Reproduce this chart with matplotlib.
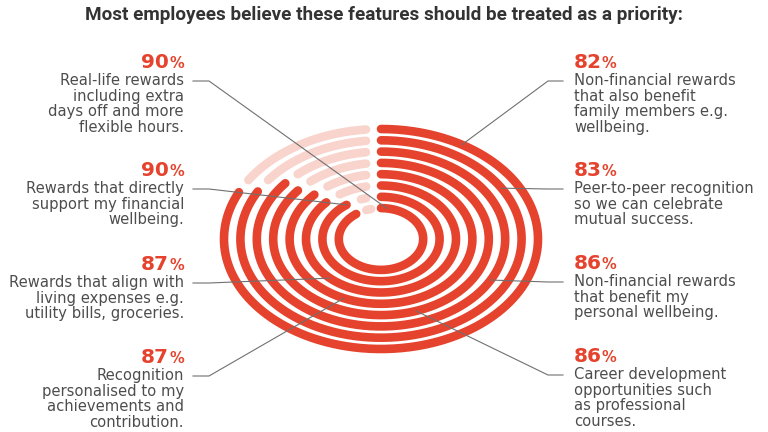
import numpy as np
import matplotlib.pyplot as plt

plt.rcParams['font.family'] = ['DejaVu Sans']

title = 'Most employees believe these features should be treated as a priority:'

# rings, outermost first
values = [82, 83, 86, 86, 87, 87, 90, 90]
labels = [
    'Non-financial rewards\nthat also benefit\nfamily members e.g.\nwellbeing.',
    'Peer-to-peer recognition\nso we can celebrate\nmutual success.',
    'Non-financial rewards\nthat benefit my\npersonal wellbeing.',
    'Career development\nopportunities such\nas professional\ncourses.',
    'Recognition\npersonalised to my\nachievements and\ncontribution.',
    'Rewards that align with\nliving expenses e.g.\nutility bills, groceries.',
    'Rewards that directly\nsupport my financial\nwellbeing.',
    'Real-life rewards\nincluding extra\ndays off and more\nflexible hours.',
]
sides = ['right', 'right', 'right', 'right', 'left', 'left', 'left', 'left']

# layout (pixels)
label_y = [68, 176, 269, 362, 363, 270, 176, 68]
pointer_deg = [31, 59, 118, 161, 204, 223, None, 8]

RED = '#e5432d'
PINK = '#f8d4cc'
GREY = '#4d4d4d'

cx, cy = 381, 239
rx = 157 - 16.4 * np.arange(len(values))
ry = 110 - 11.3 * np.arange(len(values))
lw = 6.2
gap = 15
line_h = 15.7


def ring_xy(i, t):
    return cx + rx[i] * np.sin(t), cy - ry[i] * np.cos(t)


def gap_angle(i, t):
    return gap / np.hypot(rx[i] * np.cos(t), ry[i] * np.sin(t))


fig = plt.figure(figsize=(7.68, 4.32), dpi=100)
ax = fig.add_axes([0, 0, 1, 1])
ax.set_xlim(0, 768)
ax.set_ylim(432, 0)
ax.axis('off')

for i, v in enumerate(values):
    end = 2 * np.pi * v / 100
    t = np.linspace(0, end, 400)
    ax.plot(*ring_xy(i, t), color=RED, lw=lw, solid_capstyle='round', zorder=2)
    t = np.linspace(end + gap_angle(i, end), 2 * np.pi - gap_angle(i, 0), 200)
    ax.plot(*ring_xy(i, t), color=PINK, lw=lw, solid_capstyle='round', zorder=1)

ax.text(384, 15, title, ha='center', va='center', fontsize=13.6,
        weight='bold', color='#333333', family=['Roboto', 'DejaVu Sans'])

r = fig.canvas.get_renderer()
for i, v in enumerate(values):
    y = label_y[i]
    lines = labels[i].split('\n')
    if sides[i] == 'left':
        x = 184
        p = ax.text(x, y, '%', ha='right', va='baseline', fontsize=10.5,
                    weight='bold', color=RED)
        w = p.get_window_extent(r).width
        ax.text(x - w, y, str(v), ha='right', va='baseline', fontsize=14.5,
                weight='bold', color=RED)
        xs = [193, 209]
        ha = 'right'
    else:
        x = 574
        n = ax.text(x, y, str(v), ha='left', va='baseline', fontsize=14.5,
                    weight='bold', color=RED)
        w = n.get_window_extent(r).width
        ax.text(x + w, y, '%', ha='left', va='baseline', fontsize=10.5,
                weight='bold', color=RED)
        xs = [563, 548]
        ha = 'left'
    for k, line in enumerate(lines):
        ax.text(x, y + 17 + k * line_h, line, ha=ha, va='baseline',
                fontsize=10.6, color=GREY)

    ang = pointer_deg[i]
    t = 2 * np.pi * v / 100 if ang is None else np.radians(ang)
    px, py = ring_xy(i, t)
    ly = y + 13
    ax.plot([xs[0], xs[1], px], [ly, ly, py], color='#707070', lw=0.8, zorder=3)

fig.savefig('out.png', dpi=100)
